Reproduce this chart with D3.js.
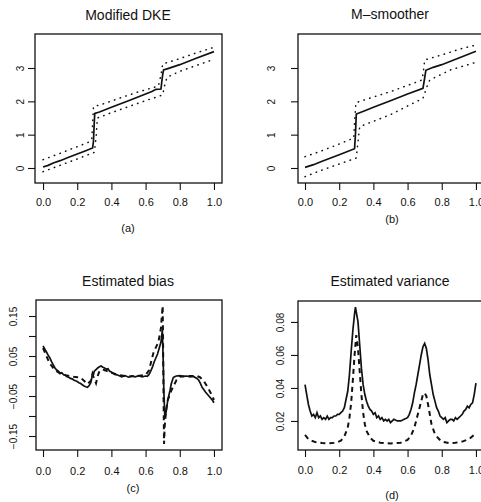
<!DOCTYPE html>
<html>
<head>
<meta charset="utf-8">
<script src="https://cdn.jsdelivr.net/npm/d3@7"></script>
<style>
  body { margin: 0; background: #fff; }
  svg text { font-family: "Liberation Sans", Arial, Helvetica, sans-serif; fill: #111; }
</style>
</head>
<body>
<div id="chart"></div>
<script>
// x ticks shared by all four panels
const xTicks = [0, 0.2, 0.4, 0.6, 0.8, 1.0];

// (a) modified DKE fit with dotted bands
const dkeFit = [[0,0.03],[0.03,0.08],[0.06,0.15],[0.1,0.22],[0.15,0.32],[0.2,0.42],[0.25,0.52],[0.29,0.6],
  [0.295,0.8],[0.297,1.05],[0.299,1.3],[0.301,1.5],[0.303,1.64],[0.33,1.68],[0.4,1.82],[0.5,2.02],[0.6,2.22],
  [0.64,2.3],[0.66,2.36],[0.69,2.37],[0.695,2.6],[0.7,2.8],[0.705,2.94],[0.73,2.98],[0.8,3.1],[0.9,3.3],[1.0,3.49]];
const dkeUpper = [[0,0.25],[0.1,0.44],[0.2,0.64],[0.27,0.78],[0.285,0.85],[0.29,1.3],[0.295,1.84],[0.35,1.92],
  [0.45,2.1],[0.55,2.27],[0.675,2.46],[0.69,2.8],[0.7,3.12],[0.8,3.28],[0.9,3.46],[1.0,3.62]];
const dkeLower = [[0,-0.11],[0.1,0.08],[0.2,0.27],[0.3,0.47],[0.31,0.9],[0.318,1.5],[0.4,1.66],[0.5,1.84],
  [0.6,2.02],[0.7,2.19],[0.71,2.45],[0.725,2.72],[0.8,2.9],[0.9,3.08],[1.0,3.26]];

// (b) M-smoother fit with dotted bands
const mFit = [[0,0.02],[0.05,0.1],[0.1,0.2],[0.2,0.4],[0.29,0.58],[0.295,1.0],[0.3,1.62],[0.35,1.72],[0.4,1.82],
  [0.5,2.02],[0.6,2.22],[0.69,2.39],[0.7,2.7],[0.707,2.93],[0.75,3.02],[0.8,3.1],[0.9,3.3],[1.0,3.5]];
const mUpper = [[0,0.34],[0.1,0.52],[0.2,0.72],[0.285,0.9],[0.29,1.4],[0.298,1.96],[0.4,2.13],[0.5,2.29],
  [0.685,2.64],[0.695,3.0],[0.7,3.24],[0.83,3.44],[0.9,3.56],[1.0,3.69]];
const mLower = [[0,-0.26],[0.1,-0.06],[0.2,0.12],[0.3,0.3],[0.31,0.8],[0.32,1.24],[0.4,1.4],[0.5,1.6],
  [0.6,1.86],[0.69,2.09],[0.71,2.4],[0.73,2.64],[0.85,2.94],[1.0,3.17]];

// (c) estimated bias: solid = modified DKE, dashed = M-smoother
const biasDKE = [[0,0.075],[0.01,0.068],[0.02,0.06],[0.03,0.052],[0.04,0.045],[0.05,0.036],[0.06,0.028],[0.07,0.02],
  [0.08,0.015],[0.09,0.012],[0.1,0.007],[0.11,0.008],[0.12,0.003],[0.13,0.002],[0.14,-0.002],[0.15,-0.003],
  [0.16,-0.006],[0.17,-0.007],[0.18,-0.01],[0.19,-0.012],[0.2,-0.014],[0.21,-0.017],[0.22,-0.019],[0.23,-0.022],
  [0.24,-0.025],[0.25,-0.027],[0.26,-0.028],[0.27,-0.024],[0.28,-0.016],[0.285,-0.005],[0.29,0.008],[0.295,0.004],
  [0.3,0.012],[0.31,0.016],[0.32,0.02],[0.33,0.023],[0.34,0.025],[0.35,0.022],[0.36,0.02],[0.37,0.017],
  [0.38,0.018],[0.39,0.012],[0.4,0.01],[0.42,0.004],[0.44,0.002],[0.46,-0.002],[0.48,0.001],[0.5,-0.003],
  [0.52,0.0],[0.54,-0.002],[0.56,0.001],[0.58,-0.002],[0.6,0.0],[0.61,-0.001],[0.62,0.004],[0.63,0.012],
  [0.64,0.022],[0.65,0.035],[0.66,0.045],[0.67,0.055],[0.68,0.07],[0.69,0.085],[0.698,0.115],[0.703,0.04],
  [0.707,-0.04],[0.713,-0.106],[0.72,-0.09],[0.73,-0.06],[0.743,-0.036],[0.75,-0.02],[0.762,-0.004],[0.77,-0.002],
  [0.78,0.0],[0.8,0.001],[0.82,-0.001],[0.84,0.0],[0.86,-0.002],[0.88,-0.001],[0.9,-0.006],[0.91,-0.01],
  [0.92,-0.018],[0.93,-0.028],[0.94,-0.034],[0.95,-0.04],[0.96,-0.045],[0.97,-0.05],[0.98,-0.055],[0.99,-0.06],[1.0,-0.067]];
const biasM = [[0,0.07],[0.02,0.05],[0.04,0.03],[0.05,0.026],[0.06,0.02],[0.08,0.012],[0.1,0.006],[0.12,0.004],
  [0.14,0.001],[0.16,0.0],[0.18,-0.002],[0.2,-0.003],[0.22,-0.004],[0.24,-0.012],[0.26,-0.02],[0.28,-0.012],
  [0.29,0.004],[0.3,-0.008],[0.31,-0.018],[0.32,0.0],[0.33,0.012],[0.35,0.016],[0.37,0.013],[0.4,0.008],
  [0.45,0.002],[0.5,-0.001],[0.55,0.0],[0.6,0.003],[0.62,0.014],[0.646,0.058],[0.675,0.085],[0.69,0.12],
  [0.695,0.15],[0.7,0.175],[0.702,0.1],[0.705,-0.05],[0.708,-0.17],[0.712,-0.125],[0.72,-0.085],[0.73,-0.06],
  [0.752,-0.035],[0.781,-0.01],[0.8,-0.002],[0.85,0.0],[0.9,0.0],[0.918,-0.003],[0.94,-0.012],[0.967,-0.031],
  [0.98,-0.042],[1.0,-0.06]];

// (d) estimated variance: solid = modified DKE, dashed = M-smoother
const varDKE = [[0,0.042],[0.01,0.036],[0.02,0.03],[0.03,0.026],[0.04,0.023],[0.05,0.024],[0.06,0.022],[0.07,0.025],
  [0.08,0.022],[0.09,0.023],[0.1,0.021],[0.11,0.022],[0.12,0.021],[0.13,0.023],[0.14,0.021],[0.15,0.022],
  [0.16,0.022],[0.17,0.023],[0.18,0.023],[0.19,0.024],[0.2,0.024],[0.21,0.025],[0.22,0.026],[0.23,0.028],
  [0.24,0.033],[0.25,0.038],[0.26,0.048],[0.27,0.062],[0.28,0.075],[0.29,0.085],[0.295,0.089],[0.3,0.086],
  [0.31,0.08],[0.32,0.066],[0.33,0.052],[0.34,0.042],[0.35,0.036],[0.36,0.032],[0.37,0.029],[0.38,0.027],
  [0.39,0.026],[0.4,0.024],[0.41,0.025],[0.42,0.022],[0.43,0.023],[0.44,0.021],[0.45,0.022],[0.46,0.02],
  [0.47,0.021],[0.48,0.02],[0.49,0.021],[0.5,0.019],[0.52,0.021],[0.54,0.02],[0.56,0.02],[0.58,0.021],
  [0.6,0.022],[0.61,0.024],[0.62,0.027],[0.63,0.031],[0.64,0.037],[0.65,0.042],[0.66,0.048],[0.67,0.054],
  [0.68,0.06],[0.69,0.065],[0.7,0.067],[0.71,0.064],[0.72,0.057],[0.73,0.048],[0.74,0.042],[0.75,0.036],
  [0.76,0.032],[0.77,0.028],[0.78,0.026],[0.79,0.023],[0.8,0.022],[0.81,0.021],[0.82,0.022],[0.83,0.019],
  [0.84,0.02],[0.85,0.021],[0.86,0.021],[0.87,0.02],[0.88,0.022],[0.89,0.021],[0.9,0.022],[0.91,0.023],
  [0.92,0.024],[0.93,0.026],[0.94,0.027],[0.95,0.029],[0.96,0.028],[0.97,0.03],[0.98,0.031],[0.99,0.036],[1.0,0.043]];
const varM = [[0,0.0115],[0.02,0.009],[0.04,0.008],[0.06,0.0072],[0.1,0.0066],[0.14,0.0064],[0.18,0.0068],
  [0.21,0.008],[0.23,0.0105],[0.25,0.016],[0.26,0.022],[0.27,0.031],[0.28,0.045],[0.29,0.06],[0.3,0.072],
  [0.31,0.064],[0.32,0.05],[0.33,0.036],[0.34,0.025],[0.35,0.018],[0.36,0.014],[0.38,0.01],[0.4,0.008],
  [0.44,0.0068],[0.5,0.0064],[0.56,0.0068],[0.6,0.0085],[0.62,0.011],[0.64,0.016],[0.66,0.024],[0.68,0.032],
  [0.69,0.036],[0.7,0.037],[0.71,0.035],[0.72,0.03],[0.73,0.024],[0.74,0.018],[0.76,0.012],[0.78,0.0095],
  [0.8,0.0075],[0.84,0.0066],[0.88,0.0068],[0.92,0.0075],[0.96,0.009],[1.0,0.0125]];

const titles = ["Modified DKE", "M\u2013smoother", "Estimated bias", "Estimated variance"];
const captions = ["(a)", "(b)", "(c)", "(d)"];
const fitTicks = [0, 1, 2, 3];
const biasTicks = [-0.15, -0.1, -0.05, 0, 0.05, 0.1, 0.15];
const biasLabels = [-0.15, -0.05, 0.05, 0.15];
const varTicks = [0.02, 0.04, 0.06, 0.08];

const svg = d3.select("#chart").append("svg")
  .attr("width", 481)
  .attr("height", 502);

class Panel {
  constructor(cfg) {
    this.cfg = cfg;
    this.g = svg.append("g");
    this.x = d3.scaleLinear().domain(cfg.xDomain).range([cfg.left, cfg.right]);
    this.y = d3.scaleLinear().domain(cfg.yDomain).range([cfg.bottom, cfg.top]);
    this.drawFrame();
    this.drawAxes();
    cfg.series.forEach(s => this.drawLine(s));
  }

  drawFrame() {
    const c = this.cfg;
    this.g.append("rect")
      .attr("x", c.left).attr("y", c.top)
      .attr("width", c.right - c.left).attr("height", c.bottom - c.top)
      .attr("fill", "none").attr("stroke", "#111").attr("stroke-width", 1.3);

    this.g.append("text")
      .attr("x", c.titleX).attr("y", c.titleY)
      .attr("text-anchor", "middle").style("font-size", "14px")
      .text(c.title);

    this.g.append("text")
      .attr("x", c.capX).attr("y", c.capY)
      .attr("text-anchor", "middle").style("font-size", "11px")
      .text(c.caption);
  }

  drawAxes() {
    const c = this.cfg;
    const xAxis = d3.axisBottom(this.x)
      .tickValues(xTicks).tickSize(7).tickPadding(c.xPad)
      .tickFormat(d3.format(".1f"));
    const gx = this.g.append("g")
      .attr("transform", `translate(0,${c.bottom})`)
      .call(xAxis);
    gx.select(".domain").remove();
    gx.selectAll("text").style("font-size", "11px").attr("fill", "#111");

    const yAxis = d3.axisLeft(this.y)
      .tickValues(c.yTicks).tickSize(7)
      .tickFormat(d => c.yLabels.some(v => Math.abs(v - d) < 1e-9) ? c.yFormat(d) : "");
    const gy = this.g.append("g")
      .attr("transform", `translate(${c.left},0)`)
      .call(yAxis);
    gy.select(".domain").remove();
    gy.selectAll("text")
      .attr("x", 0).attr("dy", 0)
      .attr("text-anchor", "middle")
      .attr("transform", `translate(${-c.yOff},0) rotate(-90)`)
      .style("font-size", "10px").attr("fill", "#111");
    this.g.selectAll(".tick line").attr("stroke", "#111").attr("stroke-width", 1.1);
  }

  drawLine(s) {
    const line = d3.line()
      .x(d => this.x(d[0]))
      .y(d => this.y(d[1]));
    this.g.append("path")
      .datum(s.data)
      .attr("d", line)
      .attr("fill", "none")
      .attr("stroke", "#111")
      .attr("stroke-width", s.width)
      .attr("stroke-linecap", s.cap || "butt")
      .attr("stroke-dasharray", s.dash || null);
  }
}

const dotted = { width: 1.5, dash: "0.5,5.5", cap: "round" };

new Panel({
  left: 35, right: 222, top: 34, bottom: 183,
  xDomain: [-0.047, 1.047], yDomain: [-0.45, 4.02],
  yTicks: fitTicks, yLabels: fitTicks, yFormat: d3.format("d"), yOff: 11, xPad: 8,
  title: titles[0], titleX: 128, titleY: 20, caption: captions[0], capX: 128, capY: 232,
  series: [
    { data: dkeUpper, ...dotted },
    { data: dkeLower, ...dotted },
    { data: dkeFit, width: 1.7 }
  ]
});

new Panel({
  left: 298, right: 485, top: 34, bottom: 183,
  xDomain: [-0.041, 1.053], yDomain: [-0.45, 4.02],
  yTicks: fitTicks, yLabels: fitTicks, yFormat: d3.format("d"), yOff: 23, xPad: 8,
  title: titles[1], titleX: 390, titleY: 19, caption: captions[1], capX: 392, capY: 223,
  series: [
    { data: mUpper, ...dotted },
    { data: mLower, ...dotted },
    { data: mFit, width: 1.7 }
  ]
});

new Panel({
  left: 36, right: 222, top: 300, bottom: 450,
  xDomain: [-0.041, 1.047], yDomain: [-0.185, 0.19],
  yTicks: biasTicks, yLabels: biasLabels, yFormat: d3.format(".2f"), yOff: 19, xPad: 10,
  title: titles[2], titleX: 128, titleY: 286, caption: captions[2], capX: 133, capY: 492,
  series: [
    { data: biasM, width: 2, dash: "5,4" },
    { data: biasDKE, width: 1.7 }
  ]
});

new Panel({
  left: 298, right: 485, top: 301, bottom: 450,
  xDomain: [-0.041, 1.053], yDomain: [0.0024, 0.0927],
  yTicks: varTicks, yLabels: varTicks, yFormat: d3.format(".2f"), yOff: 14, xPad: 9,
  title: titles[3], titleX: 390, titleY: 286, caption: captions[3], capX: 392, capY: 499,
  series: [
    { data: varM, width: 2, dash: "5,4" },
    { data: varDKE, width: 1.7 }
  ]
});
</script>
</body>
</html>
